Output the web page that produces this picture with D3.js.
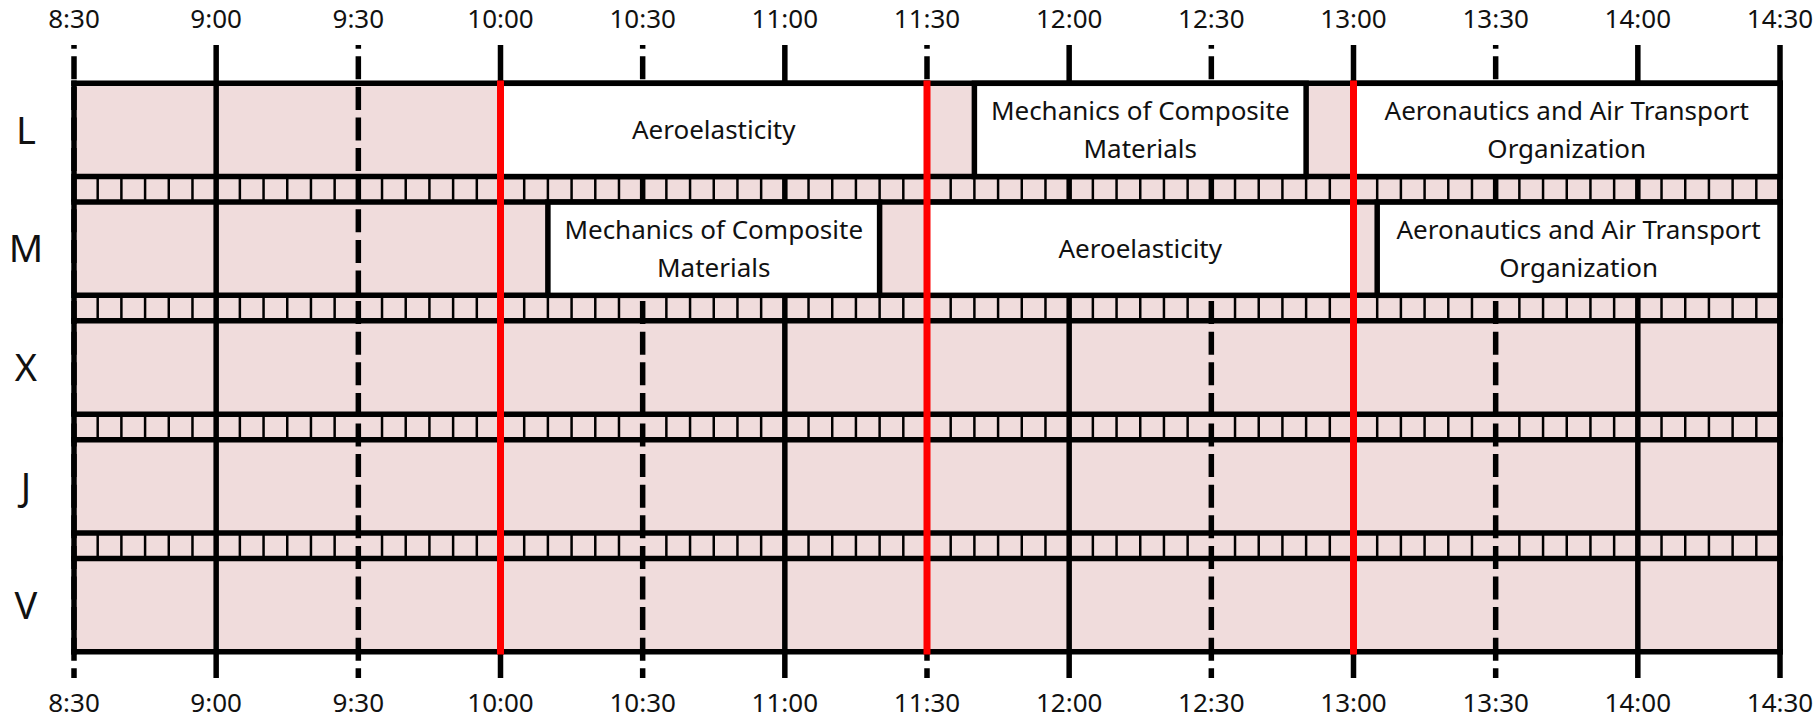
<!DOCTYPE html>
<html>
<head>
<meta charset="utf-8">
<script src="https://cdn.jsdelivr.net/npm/d3@7"></script>
<style>
    body { margin: 0; background: #fff; }
    text { font-family: "Noto Sans", Lato, sans-serif; fill: #111; }
</style>
</head>
<body>
<div id="chart"></div>
<script>
// Weekly timetable: days (rows) x time of day (columns)
const days = ["L", "M", "X", "J", "V"];
const timeTicks = ["8:30", "9:00", "9:30", "10:00", "10:30", "11:00", "11:30",
    "12:00", "12:30", "13:00", "13:30", "14:00", "14:30"];
const breakTimes = ["10:00", "11:30", "13:00"];

// sessions
const sessionDays = ["L", "L", "L", "M", "M", "M"];
const sessionStarts = ["10:00", "11:40", "13:00", "10:10", "11:30", "13:05"];
const sessionEnds = ["11:30", "12:50", "14:30", "11:20", "13:00", "14:30"];
const sessionNames = [
    "Aeroelasticity",
    "Mechanics of Composite Materials",
    "Aeronautics and Air Transport Organization",
    "Mechanics of Composite Materials",
    "Aeroelasticity",
    "Aeronautics and Air Transport Organization"
];

const toMin = s => {
    const [h, m] = s.split(":").map(Number);
    return h * 60 + m;
};

const svgWidth = 1819;
const svgHeight = 720;
const pink = "#f0dcdc";
const lineW = 5.5;

const svg = d3.select("#chart")
    .append("svg")
    .attr("width", svgWidth)
    .attr("height", svgHeight);

const x = d3.scaleLinear()
    .domain([toMin(timeTicks[0]), toMin(timeTicks[timeTicks.length - 1])])
    .range([74, 1780]);

const y = d3.scaleBand()
    .domain(days)
    .range([83.3, 651.7])
    .paddingInner(0.2148)
    .paddingOuter(0);

const chartTop = y(days[0]);
const chartBottom = y(days[days.length - 1]) + y.bandwidth();
const tickTop = 45;
const tickBottom = 678;

// Background
svg.append("rect")
    .attr("x", x.range()[0])
    .attr("y", chartTop)
    .attr("width", x.range()[1] - x.range()[0])
    .attr("height", chartBottom - chartTop)
    .attr("fill", pink);

// Small dividers inside the strips between days (every 5 minutes)
const t0 = toMin(timeTicks[0]);
const t1 = toMin(timeTicks[timeTicks.length - 1]);
const minorTimes = d3.range(t0 + 5, t1, 5).filter(m => (m - t0) % 30 !== 0);
const strips = days.slice(0, -1).map((d, i) => ({
    y0: y(d) + y.bandwidth(),
    y1: y(days[i + 1])
}));

strips.forEach(s => {
    svg.append("g")
        .selectAll("line")
        .data(minorTimes)
        .join("line")
        .attr("x1", d => x(d))
        .attr("x2", d => x(d))
        .attr("y1", s.y0)
        .attr("y2", s.y1)
        .attr("stroke", "#000")
        .attr("stroke-width", 2.5);
});

// Grid lines at every half hour (dashed on :30, solid on the hour)
svg.append("g")
    .selectAll("line")
    .data(timeTicks)
    .join("line")
    .attr("x1", d => x(toMin(d)))
    .attr("x2", d => x(toMin(d)))
    .attr("y1", tickTop)
    .attr("y2", tickBottom)
    .attr("stroke", "#000")
    .attr("stroke-width", lineW)
    .attr("stroke-dasharray", (d, i) => (d.endsWith(":30") && i < timeTicks.length - 1) ? "23,7.6" : null)
    .attr("stroke-dashoffset", 19.3);

// Horizontal borders of each day row
const hLines = [];
days.forEach(d => {
    hLines.push(y(d));
    hLines.push(y(d) + y.bandwidth());
});
svg.append("g")
    .selectAll("line")
    .data(hLines)
    .join("line")
    .attr("x1", x.range()[0] - lineW / 2)
    .attr("x2", x.range()[1] + lineW / 2)
    .attr("y1", d => d)
    .attr("y2", d => d)
    .attr("stroke", "#000")
    .attr("stroke-width", lineW);

// Frame sides
svg.append("g")
    .selectAll("line")
    .data(x.range())
    .join("line")
    .attr("x1", d => d)
    .attr("x2", d => d)
    .attr("y1", chartTop - lineW / 2)
    .attr("y2", chartBottom + lineW / 2)
    .attr("stroke", "#000")
    .attr("stroke-width", lineW);

// Sessions
const sessions = sessionNames.map((name, i) => ({
    name: name,
    day: sessionDays[i],
    start: toMin(sessionStarts[i]),
    end: toMin(sessionEnds[i])
}));

const blocks = svg.append("g")
    .selectAll("g")
    .data(sessions)
    .join("g");

blocks.append("rect")
    .attr("x", d => x(d.start))
    .attr("y", d => y(d.day))
    .attr("width", d => x(d.end) - x(d.start))
    .attr("height", y.bandwidth())
    .attr("fill", "#fff")
    .attr("stroke", "#000")
    .attr("stroke-width", lineW);

// Break markers
svg.append("g")
    .selectAll("line")
    .data(breakTimes)
    .join("line")
    .attr("x1", d => x(toMin(d)))
    .attr("x2", d => x(toMin(d)))
    .attr("y1", chartTop - lineW / 2)
    .attr("y2", chartBottom + lineW / 2)
    .attr("stroke", "#ff0000")
    .attr("stroke-width", 7);

// Session labels, wrapped to the block width
const fontSize = 26;
const lineGap = 38.3;
blocks.each(function (d) {
    const g = d3.select(this);
    const maxW = x(d.end) - x(d.start) - 20;
    const words = d.name.split(" ");
    const lines = [];
    let cur = [];
    const probe = g.append("text").attr("font-size", fontSize);
    words.forEach(w => {
        const test = cur.concat(w).join(" ");
        probe.text(test);
        if (probe.node().getComputedTextLength() > maxW && cur.length) {
            lines.push(cur.join(" "));
            cur = [w];
        } else {
            cur.push(w);
        }
    });
    lines.push(cur.join(" "));
    probe.remove();

    const cx = (x(d.start) + x(d.end)) / 2;
    const cy = y(d.day) + y.bandwidth() / 2;
    g.selectAll("text.lbl")
        .data(lines)
        .join("text")
        .attr("class", "lbl")
        .attr("x", cx)
        .attr("y", (l, i) => cy + (i - (lines.length - 1) / 2) * lineGap)
        .attr("dy", "0.35em")
        .attr("text-anchor", "middle")
        .attr("font-size", fontSize)
        .text(l => l);
});

// Day labels
svg.append("g")
    .selectAll("text")
    .data(days)
    .join("text")
    .attr("x", 26)
    .attr("y", d => y(d) + y.bandwidth() / 2)
    .attr("dy", "0.36em")
    .attr("text-anchor", "middle")
    .attr("font-size", 38)
    .text(d => d);

// Time labels top and bottom
[28, 712].forEach(base => {
    svg.append("g")
        .selectAll("text")
        .data(timeTicks)
        .join("text")
        .attr("x", d => x(toMin(d)))
        .attr("y", base)
        .attr("text-anchor", "middle")
        .attr("font-size", 26)
        .text(d => d);
});
</script>
</body>
</html>
